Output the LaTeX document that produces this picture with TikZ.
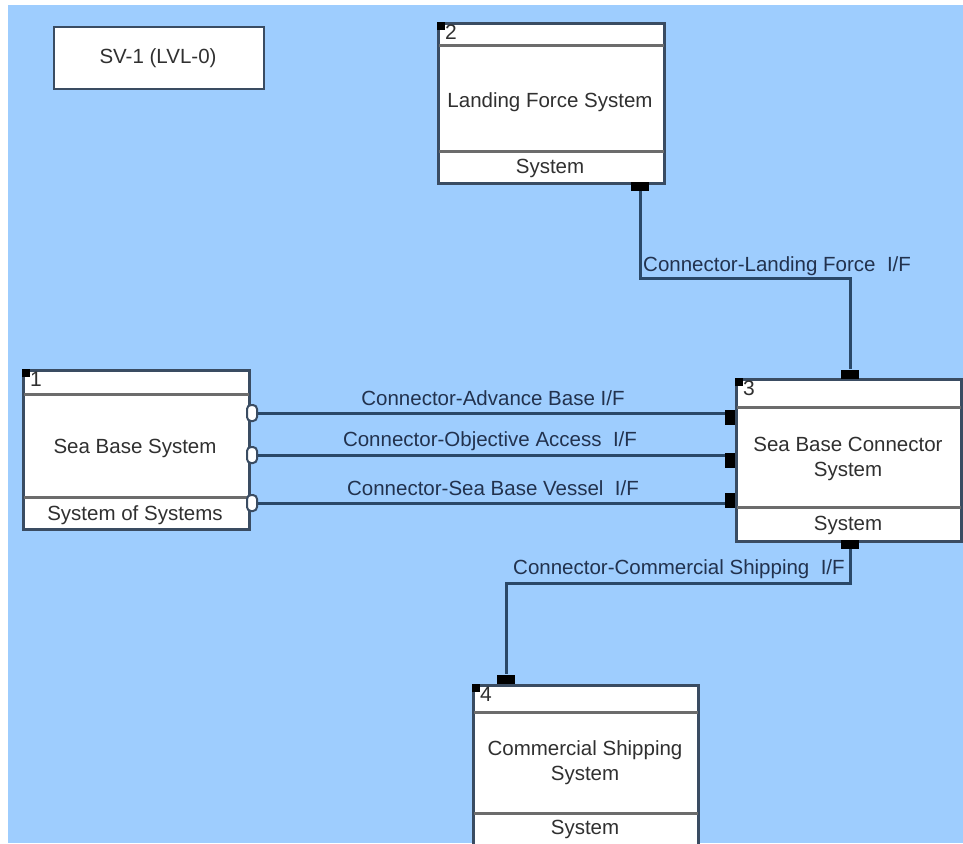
\documentclass[tikz,border=0pt]{standalone}
\usepackage{fontspec}
\setmainfont{Liberation Sans}
\usetikzlibrary{calc}

\definecolor{canvas}{RGB}{158,205,254}
\definecolor{frame}{RGB}{58,76,98}
\definecolor{rulegray}{RGB}{108,108,108}
\definecolor{wirecol}{RGB}{42,72,104}
\definecolor{ink}{RGB}{48,48,48}
\definecolor{wiretext}{RGB}{34,50,78}

\tikzset{
  sysbox/.style={draw=frame, line width=2.6pt, fill=white, inner sep=0pt,
                 anchor=north west, rectangle},
  divider/.style={draw=rulegray, line width=3pt},
  corner/.style={fill=black, inner sep=0pt, minimum size=8pt, anchor=north west},
  idx/.style={font=\fontsize{21}{21}\selectfont, text=ink, anchor=north west, inner sep=0pt},
  title/.style={font=\fontsize{20.5}{25}\selectfont, text=ink, align=center, inner sep=0pt},
  kind/.style={font=\fontsize{20.5}{25}\selectfont, text=ink, inner sep=0pt},
  wire/.style={draw=wirecol, line width=3pt},
  wirelabel/.style={font=\fontsize{20.5}{25}\selectfont, text=wiretext, inner sep=0pt},
  portin/.style={draw=frame, fill=white, line width=2pt, rounded corners=4pt,
                 minimum width=10pt, minimum height=16pt, inner sep=0pt},
  portout/.style={fill=black, minimum width=10pt, minimum height=15pt, inner sep=0pt},
  portv/.style={fill=black, minimum width=18pt, minimum height=9pt, inner sep=0pt},
}

\begin{document}
\begin{tikzpicture}[x=1pt, y=-1pt]
  \useasboundingbox (0,0) rectangle (963,843);
  \clip (0,0) rectangle (963,843);
  \fill[white] (0,0) rectangle (963,843);
  \fill[canvas] (8,5) rectangle (963,843);

  % view title
  \node[sysbox, line width=2.2pt, minimum width=210pt, minimum height=62pt] (sv) at (53,26) {};
  \node[kind] (svtxt) at (158,58) {SV-1 (LVL-0)};

  % ---- system 2: Landing Force System
  \node[sysbox, minimum width=226pt, minimum height=160pt] (lfs) at (437,22) {};
  \draw[divider] ($(lfs.north west)+(2,24)$) -- ($(lfs.north east)+(-2,24)$);
  \draw[divider] ($(lfs.north west)+(2,129)$) -- ($(lfs.north east)+(-2,129)$);
  \node[corner] (lfsc) at (437,22) {};
  \node[idx] (lfsn) at (445,25) {2};
  \node[title] (lfst) at (550,102) {Landing Force System};
  \node[kind] (lfsk) at (550,168) {System};

  % ---- system 1: Sea Base System
  \node[sysbox, minimum width=226pt, minimum height=159pt] (sbs) at (22,369) {};
  \draw[divider] ($(sbs.north west)+(2,25)$) -- ($(sbs.north east)+(-2,25)$);
  \draw[divider] ($(sbs.north west)+(2,128)$) -- ($(sbs.north east)+(-2,128)$);
  \node[corner] (sbsc) at (22,369) {};
  \node[idx] (sbsn) at (30,372) {1};
  \node[title] (sbst) at (135,448) {Sea Base System};
  \node[kind] (sbsk) at (135,515) {System of Systems};

  % ---- system 3: Sea Base Connector System
  \node[sysbox, minimum width=225pt, minimum height=162pt] (sbc) at (735,378) {};
  \draw[divider] ($(sbc.north west)+(2,29)$) -- ($(sbc.north east)+(-2,29)$);
  \draw[divider] ($(sbc.north west)+(2,129)$) -- ($(sbc.north east)+(-2,129)$);
  \node[corner] (sbcc) at (735,378) {};
  \node[idx] (sbcn) at (743,381) {3};
  \node[title] (sbct) at (848,459) {Sea Base Connector\\System};
  \node[kind] (sbck) at (848,525) {System};

  % ---- system 4: Commercial Shipping System
  \node[sysbox, minimum width=225pt, minimum height=190pt] (css) at (472,684) {};
  \draw[divider] ($(css.north west)+(2,28)$) -- ($(css.north east)+(-2,28)$);
  \draw[divider] ($(css.north west)+(2,129)$) -- ($(css.north east)+(-2,129)$);
  \node[corner] (cssc) at (472,684) {};
  \node[idx] (cssn) at (480,687) {4};
  \node[title] (csst) at (585,763) {Commercial Shipping\\System};
  \node[kind] (cssk) at (585,829) {System};

  % ---- ports
  \node[portv] (lfsP) at (640,186) {};
  \node[portv] (sbcT) at (850,374) {};
  \node[portv] (sbcB) at (850,544) {};
  \node[portv] (cssT) at (506,679) {};

  \node[portin] (sbsA) at (252,413) {};
  \node[portin] (sbsO) at (252,455) {};
  \node[portin] (sbsV) at (252,503) {};
  \node[portout] (sbcA) at (730,417) {};
  \node[portout] (sbcO) at (730,460) {};
  \node[portout] (sbcV) at (730,500) {};

  % ---- connectors
  \coordinate (lfBend) at (850,278);
  \draw[wire] (lfsP.south) |- (lfBend) -- (sbcT.north);
  \node[wirelabel, anchor=base west] (lfLab) at (643,271) {Connector-Landing Force\ \ I/F};

  \draw[wire] (sbsA.east) -- (sbsA.east -| sbcA.west);
  \node[wirelabel, anchor=base] (advLab) at (493,405) {Connector-Advance Base I/F};

  \draw[wire] (sbsO.east) -- (sbsO.east -| sbcO.west);
  \node[wirelabel, anchor=base] (objLab) at (490,446) {Connector-Objective Access\ \ I/F};

  \draw[wire] (sbsV.east) -- (sbsV.east -| sbcV.west);
  \node[wirelabel, anchor=base] (vesLab) at (493,495) {Connector-Sea Base Vessel\ \ I/F};

  \coordinate (csBend) at (506,583);
  \draw[wire] (sbcB.south) |- (csBend) -- (cssT.north);
  \node[wirelabel, anchor=base west] (csLab) at (513,574) {Connector-Commercial Shipping\ \ I/F};
\end{tikzpicture}
\end{document}
